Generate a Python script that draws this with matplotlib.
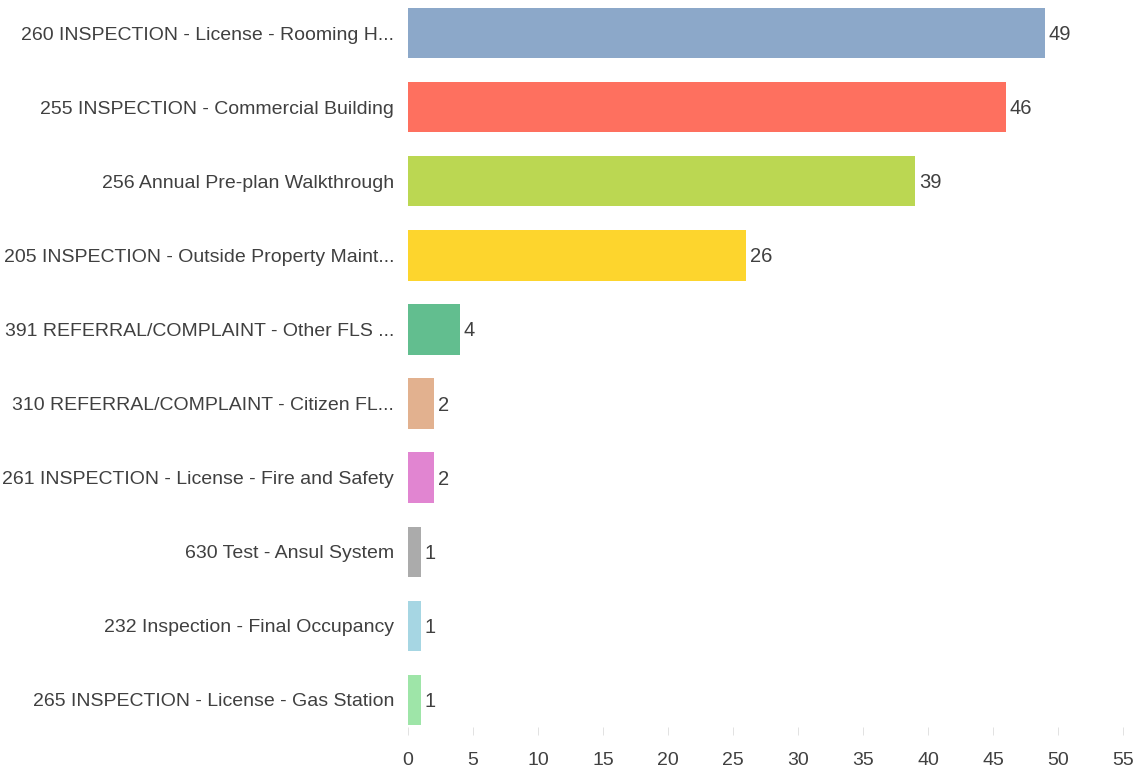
import matplotlib
matplotlib.use("Agg")
import matplotlib.pyplot as plt
from matplotlib import font_manager

# ------------------ Datos ------------------
categorias = [
    "260 INSPECTION - License - Rooming H...",
    "255 INSPECTION - Commercial Building",
    "256 Annual Pre-plan Walkthrough",
    "205 INSPECTION - Outside Property Maint...",
    "391 REFERRAL/COMPLAINT - Other FLS ...",
    "310 REFERRAL/COMPLAINT - Citizen FL...",
    "261 INSPECTION - License - Fire and Safety",
    "630 Test - Ansul System",
    "232 Inspection - Final Occupancy",
    "265 INSPECTION - License - Gas Station",
]
valores = [49, 46, 39, 26, 4, 2, 2, 1, 1, 1]
colores = ["#8ca8c9", "#fe705f", "#bbd752", "#fdd52d", "#62be8f",
           "#e2b18f", "#e185d1", "#ababab", "#a6d6e3", "#9ee5a8"]
ticks_x = list(range(0, 60, 5))

# ------------------ Fuente ------------------
disponibles = {f.name for f in font_manager.fontManager.ttflist}
fuente = "Liberation Sans Narrow" if "Liberation Sans Narrow" in disponibles else "Liberation Sans"
plt.rcParams["font.family"] = [fuente, "DejaVu Sans"]
gris = "#404040"

# ------------------ Graficar ------------------
fig = plt.figure(figsize=(11.43, 7.71), dpi=100)
ax = fig.add_axes([408 / 1143, 1 - 735 / 771, 715 / 1143, 735 / 771])

pos = list(range(len(categorias)))
ax.barh(pos, valores, height=0.68, color=colores, zorder=3)

for p, v in zip(pos, valores):
    ax.text(v + 0.3, p + 0.02, str(v), va="center", ha="left", fontsize=14.5, color=gris)

ax.set_xlim(0, 55)
ax.set_ylim(9 + 35 / 74.1, -33 / 74.1)
ax.set_yticks(pos)
ax.set_yticklabels(categorias, fontsize=14, color=gris)
ax.set_xticks(ticks_x)
ax.set_xticklabels([str(t) for t in ticks_x], fontsize=14, color=gris)

for s in ax.spines.values():
    s.set_visible(False)
ax.tick_params(axis="y", length=0, pad=10)
ax.tick_params(axis="x", length=6, width=0.6, color="#dddddd", pad=12, direction="in")

fig.savefig("out.png", dpi=100)
